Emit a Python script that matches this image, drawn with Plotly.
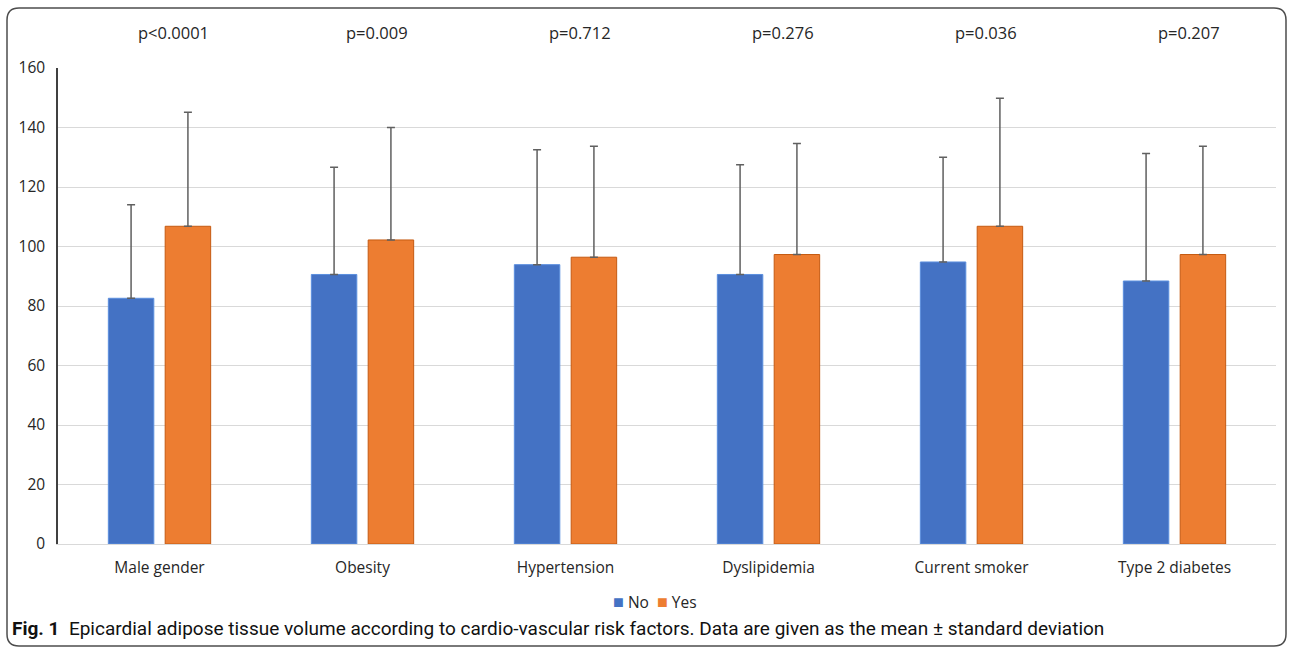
import plotly.graph_objects as go

categories = ["Male gender", "Obesity", "Hypertension", "Dyslipidemia", "Current smoker", "Type 2 diabetes"]
no_mean = [82.6, 90.6, 93.9, 90.6, 94.8, 88.4]
yes_mean = [106.8, 102.2, 96.4, 97.3, 106.8, 97.3]
no_sd = [31.4, 36.0, 38.6, 36.9, 35.2, 42.9]
yes_sd = [38.3, 37.8, 37.3, 37.3, 43.0, 36.4]
p_values = ["p<0.0001", "p=0.009", "p=0.712", "p=0.276", "p=0.036", "p=0.207"]
y_ticks = [0, 20, 40, 60, 80, 100, 120, 140, 160]

W, H = 1292, 647
L, R, T, B = 58, 16, 68, 103
PW, PH = W - L - R, H - T - B


def px_to_paper(x, y):
    return (x - L) / PW, (H - B - y) / PH


FONT = "Open Sans, Lato, sans-serif"
BLUE, ORANGE = "#4472C4", "#ED7D31"
fig = go.Figure()
fig.add_trace(go.Bar(
    name="No", x=categories, y=no_mean, showlegend=False,
    marker=dict(color=BLUE, line=dict(color="#5B8FDE", width=1)),
    error_y=dict(type="data", array=no_sd, arrayminus=[0] * len(no_sd), symmetric=False,
                 color="#606060", thickness=1.5, width=4),
))
fig.add_trace(go.Bar(
    name="Yes", x=categories, y=yes_mean, showlegend=False,
    marker=dict(color=ORANGE, line=dict(color="#C55A11", width=1)),
    error_y=dict(type="data", array=yes_sd, arrayminus=[0] * len(yes_sd), symmetric=False,
                 color="#606060", thickness=1.5, width=4),
))

for c, p in zip(categories, p_values):
    fig.add_annotation(x=c, xref="x", y=px_to_paper(0, 32)[1], yref="paper", xshift=14,
                       text=p, showarrow=False, font=dict(size=16.5, color="#262626", family=FONT),
                       xanchor="center", yanchor="middle")

# legend drawn as text
lx, ly = px_to_paper(655, 601)
fig.add_annotation(x=lx, y=ly, xref="paper", yref="paper", xanchor="center", yanchor="middle",
                   showarrow=False, font=dict(size=15.5, color="#262626", family=FONT),
                   text=f"<span style='color:{BLUE};font-size:18px'>■</span> No  "
                        f"<span style='color:{ORANGE};font-size:18px'>■</span> Yes")

cx, cy = px_to_paper(10, 628)
fig.add_annotation(x=cx, y=cy, xref="paper", yref="paper", xanchor="left", yanchor="middle",
                   text="<b>Fig. 1</b>  Epicardial adipose tissue volume according to cardio-vascular risk factors. Data are given as the mean ± standard deviation",
                   showarrow=False, font=dict(size=19, color="#111111", family="Roboto, sans-serif"))

# rounded border
x0, x1, y0, y1, r = 7, 1286, 8, 646, 12
def P(x, y):
    a, b = px_to_paper(x, y)
    return f"{a:.5f},{b:.5f}"
path = (f"M {P(x0 + r, y0)} L {P(x1 - r, y0)} Q {P(x1, y0)} {P(x1, y0 + r)} "
        f"L {P(x1, y1 - r)} Q {P(x1, y1)} {P(x1 - r, y1)} L {P(x0 + r, y1)} "
        f"Q {P(x0, y1)} {P(x0, y1 - r)} L {P(x0, y0 + r)} Q {P(x0, y0)} {P(x0 + r, y0)} Z")
fig.add_shape(type="path", path=path, xref="paper", yref="paper",
              line=dict(color="#4d4d4d", width=1.5), fillcolor="rgba(0,0,0,0)")

fig.update_layout(
    width=W, height=H,
    margin=dict(l=L, r=R, t=T, b=B),
    paper_bgcolor="white", plot_bgcolor="white",
    barmode="group", bargap=0.44, bargroupgap=0.2,
    showlegend=False,
    font=dict(family=FONT, color="#262626"),
    xaxis=dict(showgrid=False, showline=True, linecolor="#d9d9d9", linewidth=1,
               tickfont=dict(size=15.5, color="#262626"), ticks="", ticklabelstandoff=9),
    yaxis=dict(range=[0, 160], tickvals=y_ticks, showgrid=True, gridcolor="#d9d9d9", gridwidth=1,
               showline=True, linecolor="#404040", linewidth=1.5, zeroline=False,
               tickfont=dict(size=15.5, color="#262626"), ticks="", ticklabelstandoff=8),
)

fig.write_html("out.html")
